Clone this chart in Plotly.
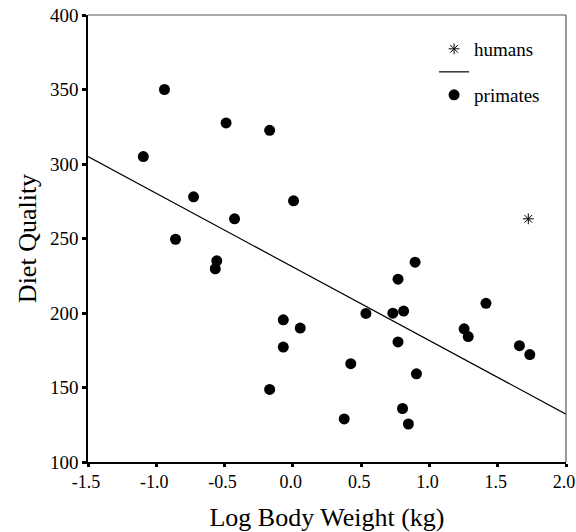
import plotly.graph_objects as go

# Data
primate_x = [-1.095, -0.94, -0.727, -0.859, -0.557, -0.568, -0.489, -0.427, -0.170, 0.005,
             -0.070, -0.070, 0.054, -0.170, 0.535, 0.424, 0.376, 0.732, 0.811, 0.770,
             0.895, 0.770, 0.905, 0.803, 0.846, 1.254, 1.284, 1.414, 1.659, 1.735]
primate_y = [305, 350, 278, 249.5, 235, 229.7, 327.6, 263.2, 322.6, 275.3,
             195.4, 177.1, 189.9, 148.7, 199.7, 166.0, 128.9, 199.9, 201.3, 222.7,
             234.1, 180.6, 159.2, 135.9, 125.5, 189.4, 184.2, 206.5, 178.1, 172.1]
human_x = [1.724]
human_y = [263.2]
fit_intercept = 230.9
fit_slope = -49.4
fit_x = [-1.5, 2.0]
fit_y = [fit_intercept + fit_slope * v for v in fit_x]

x_ticks = [-1.5, -1.0, -0.5, 0.0, 0.5, 1.0, 1.5, 2.0]
y_ticks = [100, 150, 200, 250, 300, 350, 400]

font = "Liberation Serif, Times New Roman, serif"

fig = go.Figure()
fig.add_trace(go.Scatter(x=human_x, y=human_y, mode="markers", name="humans", legend="legend",
                         marker=dict(symbol="asterisk-open", size=9, color="black",
                                     line=dict(color="black", width=1))))
fig.add_trace(go.Scatter(x=fit_x, y=fit_y, mode="lines", name=" ", legend="legend2",
                         line=dict(color="black", width=1.2)))
fig.add_trace(go.Scatter(x=primate_x, y=primate_y, mode="markers", name="primates", legend="legend3",
                         marker=dict(symbol="circle", size=11, color="black")))

leg_common = dict(x=0.724, xanchor="left", yanchor="middle",
                  bgcolor="rgba(0,0,0,0)", font=dict(size=19, family=font), itemwidth=30)

fig.update_layout(
    width=576, height=532,
    margin=dict(l=88, r=10, t=15, b=70),
    paper_bgcolor="white", plot_bgcolor="white",
    font=dict(family=font, size=19, color="black"),
    showlegend=True,
    legend=dict(y=0.924, **leg_common),
    legend2=dict(y=0.8725, **leg_common),
    legend3=dict(y=0.821, **leg_common),
    xaxis=dict(range=[-1.5, 2.0], tickvals=x_ticks, automargin=False,
               ticktext=[f"{v:.1f}" for v in x_ticks], ticklabelshift=-2,
               showgrid=False, zeroline=False, showline=True, linecolor="black", linewidth=1.5,
               ticks="outside", ticklen=3, tickwidth=3, tickcolor="black",
               title=dict(text="Log Body Weight (kg)", font=dict(size=26, family=font), standoff=16),
               tickfont=dict(size=18, family=font)),
    yaxis=dict(range=[100, 400], tickvals=y_ticks, automargin=False,
               showgrid=False, zeroline=False, showline=True, linecolor="black", linewidth=1.5,
               ticks="outside", ticklen=4, tickwidth=3, tickcolor="black",
               title=dict(text="Diet Quality", font=dict(size=26, family=font), standoff=6),
               tickfont=dict(size=19, family=font)),
    shapes=[
        dict(type="line", xref="paper", yref="paper", x0=0, x1=1, y0=1, y1=1,
             line=dict(color="#555555", width=1.2)),
        dict(type="line", xref="paper", yref="paper", x0=1, x1=1, y0=0, y1=1,
             line=dict(color="#555555", width=1.2)),
    ],
)

fig.write_html("out.html", config={"displayModeBar": False},
               post_script="document.body.style.margin='0';document.body.style.overflow='hidden';")
